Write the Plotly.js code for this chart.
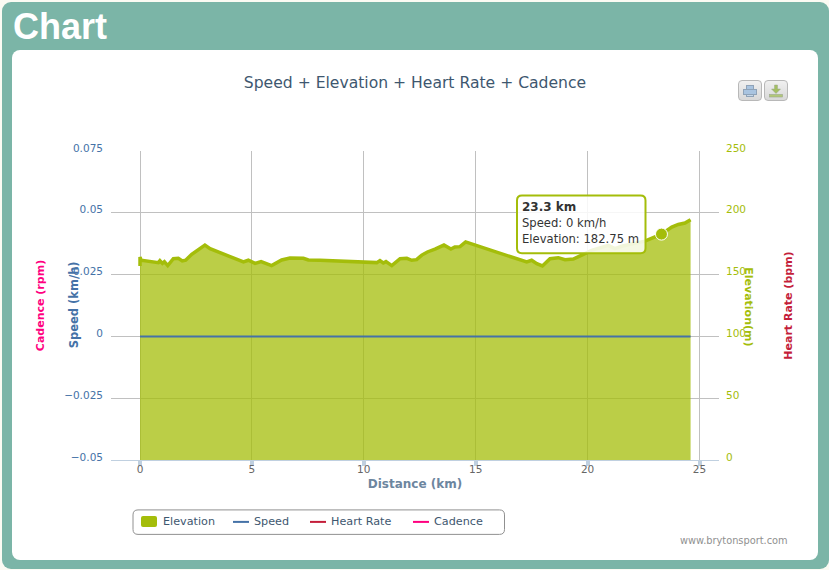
<!DOCTYPE html>
<html><head><meta charset="utf-8">
<script src="https://cdn.plot.ly/plotly-3.0.1.min.js"></script>
<style>
html,body{margin:0;padding:0;background:#fbfbf3;width:829px;height:570px;overflow:hidden}
#outer{position:absolute;left:2px;top:2px;width:827px;height:567px;background:#7bb5a7;border-radius:9px}
#panel{position:absolute;left:12px;top:50px;width:806px;height:510px;background:#fff;border-radius:8px}
#head{position:absolute;left:13px;top:6px;font:bold 36px "Liberation Sans",Arial,sans-serif;color:#fff;line-height:42px}
#chart{position:absolute;left:0;top:0;width:829px;height:570px}
.btn{position:absolute;top:80px;width:22px;height:19px;border:1px solid #b8b8b8;border-radius:4px;background:linear-gradient(#f0f0f0,#d8d8d8);z-index:5}
.btn svg{position:absolute;left:0;top:0}
</style></head>
<body>
<div id="outer"></div><div id="panel"></div><div id="head">Chart</div>
<div id="chart"></div>
<div class="btn" style="left:738px"><svg width="22" height="19"><rect x="7.5" y="4.5" width="7" height="4" fill="#a9c4e0" stroke="#8fa3b8"/><rect x="4.5" y="8.5" width="13" height="5" fill="#a9c4e0" stroke="#8fa3b8"/><rect x="7.5" y="13.5" width="7" height="2" fill="#c6d8ea" stroke="#8fa3b8"/></svg></div>
<div class="btn" style="left:764px"><svg width="22" height="19"><path d="M9.5 4h3v4h3l-4.5 4.5L6.500 8h3z" fill="#a4bf62" stroke="#9aa88a" stroke-width=".5"/><rect x="4.500" y="13.500" width="13" height="2.500" fill="#b2c878" stroke="#9aa88a" stroke-width=".6"/></svg></div>
<script>
const distanceKm = [0,0,0.05,0.82,0.89,1.0,1.09,1.24,1.49,1.71,1.89,2.04,2.31,2.6,2.9,3.13,4.62,4.84,5.14,5.41,5.88,6.33,6.7,7.3,7.52,8.04,10.58,10.72,10.87,10.99,11.25,11.62,11.92,12.14,12.36,12.59,12.84,13.18,13.58,13.89,14.07,14.3,14.55,17.28,17.5,17.73,17.98,18.32,18.69,18.99,19.36,19.81,20.18,20.92,21.22,21.52,22.12,22.56,23.3,23.76,24.05,24.35,24.6];
const elevationM = [157,164.2,161.6,159.7,161.3,159.1,160.5,157.3,162.9,163.2,161,161.6,166.4,170.2,173.9,171,160.2,161.6,159.1,160.5,157.3,161.8,163.4,163.2,161.8,161.6,159.7,161.3,159.4,160.5,157.3,162.9,163.2,161.6,162.1,165.8,168.3,170.7,173.9,170.7,172.3,172.6,176.5,160.2,161.6,158.9,157,162.9,163.7,162.1,162.6,166.4,169.6,173.7,171,172.9,175,177.1,182.75,188.4,190.6,191.7,194.4];
const speedKm = [0,24.6];
const speedKmh = [0,0];
const emptyX = [null];
const emptyY = [null];
const hoverKm = [23.3];
const hoverM = [182.75];
const xTicks = [0,5,10,15,20,25];
const legendNames = ['Elevation','Speed','Heart Rate','Cadence'];
const ELEV='#a4bd0a', SPEED='#4572a7', HR='#c41e3a', CAD='#ff007f';

const L=111,R=719,T=150.5,B=460;
const px=x=>(x-L)/(R-L), py=y=>(B-y)/(B-T);
function rr(x0,y0,x1,y1,r){
  const P=(x,y)=>px(x)+' '+py(y);
  return 'M'+P(x0+r,y0)+' L'+P(x1-r,y0)+' Q'+P(x1,y0)+' '+P(x1,y0+r)+' L'+P(x1,y1-r)+' Q'+P(x1,y1)+' '+P(x1-r,y1)+' L'+P(x0+r,y1)+' Q'+P(x0,y1)+' '+P(x0,y1-r)+' L'+P(x0,y0+r)+' Q'+P(x0,y0)+' '+P(x0+r,y0)+' Z';
}
const F='"DejaVu Sans",Verdana,sans-serif';
const traces=[
 {name:legendNames[0],x:distanceKm,y:elevationM,mode:'lines',yaxis:'y',fill:'tozeroy',fillcolor:'rgba(164,189,10,0.75)',line:{color:ELEV,width:3.5,shape:'linear'}},
 {name:legendNames[1],x:speedKm,y:speedKmh,mode:'lines',yaxis:'y2',line:{color:SPEED,width:2}},
 {name:legendNames[2],x:emptyX,y:emptyY,mode:'lines',yaxis:'y3',line:{color:HR,width:2}},
 {name:legendNames[3],x:emptyX,y:emptyY,mode:'lines',yaxis:'y4',line:{color:CAD,width:2}},
 {x:hoverKm,y:hoverM,mode:'markers',yaxis:'y',marker:{size:12,color:ELEV,line:{color:'#fff',width:1}}}
];
function lineShape(x0,x1,color){return {type:'line',xref:'paper',yref:'paper',x0:px(x0),x1:px(x1),y0:py(522),y1:py(522),line:{color:color,width:2},layer:'above'};}
function note(x,y,text,size,color,anchor,angle){return {xref:'paper',yref:'paper',x:px(x),y:py(y),xanchor:anchor||'left',yanchor:'middle',showarrow:false,text:text,textangle:angle||0,font:{family:F,size:size,color:color}};}
const layout={
 width:829,height:570,paper_bgcolor:'rgba(0,0,0,0)',plot_bgcolor:'rgba(0,0,0,0)',
 margin:{l:L,r:829-R,t:T,b:570-B,pad:0},showlegend:false,hovermode:false,
 font:{family:F,size:11,color:'#3e576f'},
 title:{text:'Speed + Elevation + Heart Rate + Cadence',font:{family:F,size:15.6,color:'#3e576f'},x:415/829,xanchor:'center',y:1-83/570,yanchor:'middle'},
 xaxis:{range:[-1.296,25.87],tickvals:xTicks,ticktext:xTicks.map(String),showgrid:true,gridcolor:'#c0c0c0',gridwidth:1,zeroline:false,showline:true,linecolor:'#c0d0e0',linewidth:1,ticks:'outside',ticklen:5,tickwidth:4,tickcolor:'#c0d0e0',tickfont:{family:F,size:10.5,color:'#666'},ticklabelstandoff:-6,title:{text:'Distance (km)',font:{family:F,size:12,color:'#6d869f',weight:'bold'},standoff:6}},
 yaxis:{range:[0,250],dtick:50,side:'right',showgrid:true,gridcolor:'#c0c0c0',gridwidth:1,zeroline:false,showline:false,ticks:'',tickfont:{family:F,size:10.5,color:ELEV},ticklabelstandoff:6,ticklabelshift:-3},
 yaxis2:{range:[-0.05,0.075],dtick:0.025,overlaying:'y',side:'left',showgrid:false,zeroline:false,showline:false,ticks:'',tickfont:{family:F,size:10.5,color:SPEED},ticklabelstandoff:7,ticklabelshift:-3},
 yaxis3:{range:[0,1],overlaying:'y',side:'right',showgrid:false,zeroline:false,showline:false,showticklabels:false,ticks:'',title:{text:'Heart Rate (bpm)',font:{family:F,size:11,color:HR,weight:'bold'},standoff:65}},
 yaxis4:{range:[0,1],overlaying:'y',side:'left',showgrid:false,zeroline:false,showline:false,showticklabels:false,ticks:'',title:{text:'Cadence (rpm)',font:{family:F,size:11,color:CAD,weight:'bold'},standoff:63}},
 shapes:[
  {type:'path',xref:'paper',yref:'paper',path:rr(133,510,504.5,534.5,5),line:{color:'#909090',width:1},fillcolor:'rgba(255,255,255,0)',layer:'below'},
  {type:'path',xref:'paper',yref:'paper',path:rr(141,516,157,527,2),line:{width:0},fillcolor:ELEV,layer:'above'},
  lineShape(233,249,SPEED),lineShape(310,326,HR),lineShape(413,429,CAD),
  {type:'path',xref:'paper',yref:'paper',path:rr(517,195,645.5,253,5),line:{color:ELEV,width:2},fillcolor:'rgba(255,255,255,0.85)',layer:'above'}
 ],
 annotations:[
  note(74,305,'<b>Speed (km/h)</b>',11.5,SPEED,'center',-90),
  note(749,306,'<b>Elevation(m)</b>',11,ELEV,'center',90),
  note(161,522,legendNames[0],11.2,'#3e576f'),
  note(252,522,legendNames[1],11.2,'#3e576f'),
  note(329,522,legendNames[2],11.2,'#3e576f'),
  note(432,522,legendNames[3],11.2,'#3e576f'),
  note(520,206.5,'<b>23.3 km</b>',12,'#333'),
  note(520,222.5,'Speed: 0 km/h',11.6,'#333'),
  note(520,238.5,'Elevation: 182.75 m',11.6,'#333'),
  note(790,541,'www.brytonsport.com',9.8,'#909090','right')
 ]
};
Plotly.newPlot('chart',traces,layout,{displayModeBar:false,staticPlot:true});
</script>
</body></html>
